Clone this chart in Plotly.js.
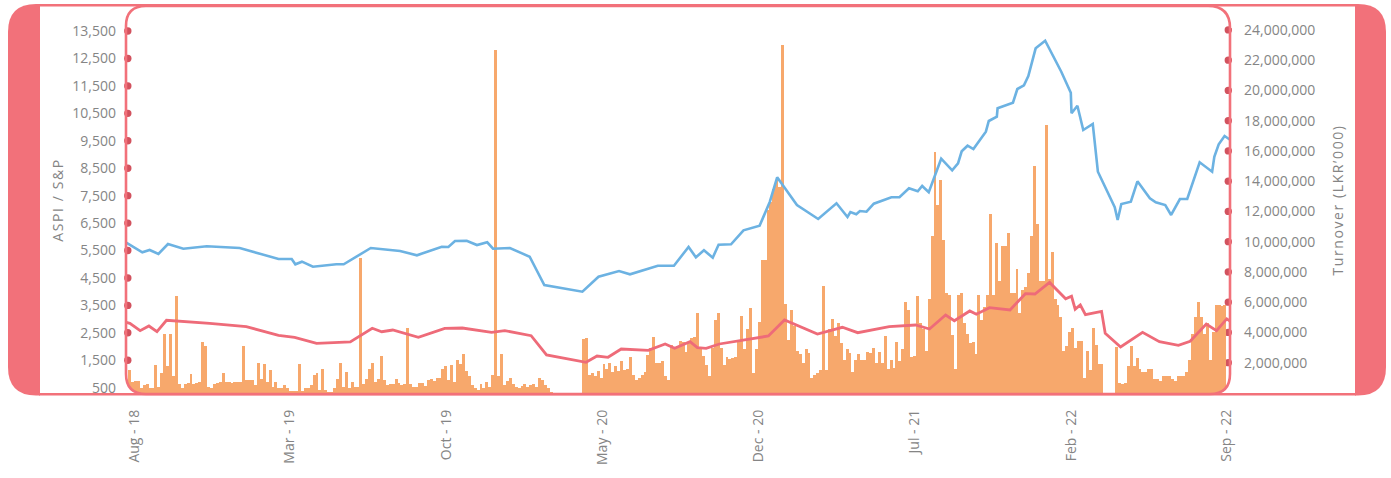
<!DOCTYPE html>
<html>
<head>
<meta charset="utf-8">
<script src="https://cdn.plot.ly/plotly-3.0.1.min.js"></script>
<style>
  html, body { margin: 0; padding: 0; background: #fff; }
  #chart { width: 1391px; height: 478px; }
  .ytitle, .y2title { letter-spacing: 1.6px; }
</style>
</head>
<body>
<div id="chart"></div>
<script>
// --- Data ---
// ASPI index (left axis)
const aspiDates = ['2018-07-21','2018-08-12','2018-08-22','2018-09-03','2018-09-16','2018-10-07','2018-11-08','2018-12-23',
  '2019-02-14','2019-03-04','2019-03-09','2019-03-18','2019-04-02','2019-05-04','2019-05-14','2019-06-20','2019-07-30',
  '2019-08-22','2019-09-25','2019-10-04','2019-10-13','2019-10-29','2019-11-12','2019-11-26','2019-12-04','2019-12-27',
  '2020-01-23','2020-02-12','2020-04-04','2020-04-26','2020-05-24','2020-06-08','2020-07-16','2020-08-07','2020-08-27',
  '2020-09-06','2020-09-17','2020-09-29','2020-10-07','2020-10-24','2020-11-10','2020-12-02','2020-12-16','2020-12-26',
  '2021-01-22','2021-02-20','2021-03-17','2021-04-01','2021-04-05','2021-04-13','2021-04-18','2021-04-27','2021-05-07',
  '2021-05-31','2021-06-11','2021-06-24','2021-07-06','2021-07-12','2021-07-21','2021-08-07','2021-08-22','2021-08-30',
  '2021-09-04','2021-09-12','2021-09-20','2021-10-07','2021-10-11','2021-10-22','2021-10-23','2021-11-13','2021-11-19',
  '2021-11-28','2021-12-04','2021-12-14','2021-12-27','2022-01-18','2022-01-31','2022-02-01','2022-02-09','2022-02-17',
  '2022-03-02','2022-03-09','2022-04-01','2022-04-05','2022-04-10','2022-04-23','2022-05-02','2022-05-19','2022-05-27',
  '2022-06-09','2022-06-17','2022-06-29','2022-07-09','2022-07-26','2022-08-12','2022-08-15','2022-08-21','2022-08-29',
  '2022-09-06'];
const aspiValues = [5785,5435,5519,5373,5738,5567,5654,5592,
  5191,5191,4998,5093,4910,4998,4998,5592,5483,
  5326,5639,5628,5847,5858,5701,5800,5567,5592,
  5275,4243,3999,4546,4754,4633,4947,4947,5629,
  5253,5508,5239,5712,5727,6237,6405,7280,8169,
  7159,6649,7221,6722,6904,6820,6941,6915,7207,
  7440,7440,7768,7659,7852,7622,8847,8424,8679,
  9117,9321,9200,9831,10221,10378,10684,10888,11388,
  11522,11862,12871,13148,12018,11253,10502,10779,9893,
  10112,8373,7076,6613,7196,7280,8023,7404,7258,
  7159,6795,7378,7378,8716,8373,8920,9372,9674,
  9529];

// S&P SL20 index (left axis)
const spDates = ['2018-07-21','2018-07-26','2018-08-09','2018-08-21','2018-09-01','2018-09-14','2018-11-12','2019-01-01',
  '2019-02-14','2019-03-08','2019-04-07','2019-05-23','2019-06-22','2019-07-05','2019-07-20','2019-08-24','2019-09-29',
  '2019-10-23','2019-12-02','2019-12-20','2020-01-25','2020-02-15','2020-04-09','2020-04-24','2020-05-09','2020-05-27',
  '2020-07-03','2020-07-26','2020-08-08','2020-08-29','2020-09-08','2020-09-20','2020-10-08','2020-11-08','2020-12-14',
  '2021-01-05','2021-02-19','2021-03-25','2021-04-15','2021-05-28','2021-07-03','2021-07-22','2021-08-13','2021-08-25',
  '2021-09-15','2021-09-24','2021-10-12','2021-11-09','2021-11-30','2021-12-13','2022-01-02','2022-01-24','2022-02-01',
  '2022-02-06','2022-02-13','2022-02-20','2022-03-14','2022-03-19','2022-04-09','2022-05-09','2022-06-01','2022-06-27',
  '2022-07-13','2022-08-04','2022-08-18','2022-09-01','2022-09-06'];
const spValues = [2884,2847,2578,2749,2541,2957,2847,2723,
  2410,2337,2118,2166,2665,2541,2603,2337,2665,
  2676,2519,2578,2395,1692,1426,1655,1608,1911,
  1863,2093,1936,2177,1958,1936,2093,2239,2384,
  2968,2457,2702,2505,2723,2785,2640,3150,2939,
  3296,3175,3416,3332,3926,3915,4335,3740,3832,
  3361,3514,3164,3285,2483,1984,2519,2177,2045,
  2191,2822,2578,3011,2913];

// Turnover, LKR'000 in millions, one bar every 4 days from 25 Jul 2018 (null = market closed)
const turnoverJul18 = [1.5,0.75,0.8,0.8,0.3,0.55,0.6,0.3,0.35,1.85,0.4,1.3,3.9,1.8,3.9,1.1,6.4,0.6,0.3,0.6,
  0.65,1.25,0.6,0.65,0.75,3.35,3.1,0.4,0.3,0.6,0.65,0.75,1.3,0.75,0.7,0.65,0.75,0.75,0.75,3.1,
  0.85,0.85,0.85,0.55,2.0,0.95,1.9,0.75,1.5,0.4,0.7,0.3,0.35,0.55,0.3,0.15,0.1,0.15,1.9,0.1,0.35,0.35];
const turnoverMar19 = [0.5,1.2,1.3,0.2,1.6,0.2,0.05,0.05,0.3,0.95,2.0,0.4,1.4,0.3,0.7,0.4,0.4,8.95,0.6,0.95,
  1.6,2.0,0.7,0.95,2.45,0.85,0.55,0.6,0.6,0.95,0.65,0.55,0.6,4.3,0.6,0.4,0.4,0.65,0.65,0.45,
  0.85,0.95,0.8,1.0,1.0,1.6,1.8,0.85,1.85,0.75,2.2,1.9,2.55,1.45,1.1,0.5,0.35,0.2,0.6,0.35,0.75,0.4,1.2];
const turnoverNov19 = [22.7,1.1,2.6,0.5,0.8,0.97,0.6,0.4,0.35,0.45,0.6,0.4,0.5,0.6,0.4,1.0,0.86,0.5,0.35,0.05,
  null,null,null,null,null,null,null,null,null,null,
  3.55,3.6,1.2,1.3,1.1,1.45,0.97,1.9,1.6,1.95,1.4,1.75,1.45,2.1,1.5,1.6,2.4,1.2,0.86,0.97,
  1.2,1.35,2.5,3.0,3.7,2.0,2.0,2.1,1.15,0.86,3.2,3.0,3.1];
const turnoverAug20 = [3.4,3.35,2.7,3.35,3.6,3.7,5.3,2.9,2.46,1.85,1.1,3.0,4.8,5.3,2.95,1.85,2.35,2.25,2.3,2.4,
  3.5,5.1,2.9,4.2,5.6,1.3,2.9,4.7,8.8,8.8,12.1,12.6,13.5,14.06,13.6,23.0,5.9,3.5,5.5,4.4,
  2.8,2.6,2.0,2.9,2.65,1.0,1.2,1.3,1.5,7.1,1.5,4.2,4.9,3.75,4.6,3.3,2.2,2.9,2.65,1.4,2.2,2.6,2.2];
const turnoverApr21 = [2.2,2.7,2.65,3.0,2.0,2.7,2.0,3.75,1.55,2.2,1.65,3.35,2.1,2.9,6.0,5.5,2.4,2.45,6.4,4.6,
  4.2,2.8,6.2,10.4,15.9,12.4,14.06,10.1,6.6,6.5,3.8,1.6,6.5,6.6,4.6,3.9,3.3,3.35,2.6,6.5,
  4.8,5.7,6.5,11.8,6.5,9.9,7.4,9.7,9.7,10.6,6.6,6.6,8.2,5.3,6.8,7.0,7.9,10.4,15.0,11.2,7.4,7.4,17.7];
const turnoverDec21 = [7.5,9.3,6.2,5.8,5.0,2.8,3.1,4.0,4.3,3.0,3.4,3.4,1.0,2.8,1.5,4.3,3.2,1.9,1.9,null,
  null,null,null,3.05,0.65,0.6,0.65,1.8,3.1,1.75,2.3,1.6,1.35,1.35,1.6,1.6,0.9,0.9,0.8,1.1,
  1.1,1.1,0.9,0.8,1.1,1.1,1.1,1.4,2.2,3.9,5.0,6.0,5.0,3.9,4.6,2.2,4.0,5.8,5.8,5.75,5.8];

// Axis ticks
const indexTicks = [500,1500,2500,3500,4500,5500,6500,7500,8500,9500,10500,11500,12500,13500];
const turnoverTicks = [2e6,4e6,6e6,8e6,10e6,12e6,14e6,16e6,18e6,20e6,22e6,24e6];

// --- Colours ---
const PINK = '#F2717A';
const DOT = '#D2525E';
const ORANGE = '#F7A86C';
const BLUE = '#6CB2E2';
const RED = '#EE6B79';
const GREY = '#858585';
const FONT = 'Open Sans, sans-serif';

// --- Frame geometry (px -> paper) ---
const W = 1391, H = 478;
const M = { l: 126, r: 161, t: 6, b: 84 };
const plotW = W - M.l - M.r;
const plotH = H - M.t - M.b;
const px = x => (x - M.l) / plotW;
const py = y => (H - M.b - y) / plotH;
const P = (x, y) => `${px(x)},${py(y)}`;

function pathShape(d, opts) {
    return Object.assign({ type: 'path', xref: 'paper', yref: 'paper', path: d, layer: 'above',
        line: { width: 0 }, fillcolor: 'rgba(0,0,0,0)' }, opts);
}

const shapes = [];

// dots on the two axes (under the bars)
indexTicks.forEach(v => shapes.push({
    type: 'circle', xref: 'paper', yref: 'y2', xsizemode: 'pixel', ysizemode: 'pixel',
    xanchor: px(127.8), yanchor: v, x0: -3.7, x1: 3.7, y0: -3.7, y1: 3.7,
    fillcolor: DOT, line: { width: 0 }, layer: 'below'
}));
turnoverTicks.forEach(v => shapes.push({
    type: 'circle', xref: 'paper', yref: 'y', xsizemode: 'pixel', ysizemode: 'pixel',
    xanchor: px(1228.3), yanchor: v, x0: -3.7, x1: 3.7, y0: -3.7, y1: 3.7,
    fillcolor: DOT, line: { width: 0 }, layer: 'below'
}));

// white masks for the rounded plot corners
shapes.push(pathShape(`M ${P(122,2)} L ${P(122,26)} L ${P(126,26)} Q ${P(126,6)} ${P(146,6)} L ${P(146,2)} Z`, { fillcolor: '#fff' }));
shapes.push(pathShape(`M ${P(1234,2)} L ${P(1208,2)} L ${P(1208,6)} Q ${P(1230,6)} ${P(1230,28)} L ${P(1234,28)} Z`, { fillcolor: '#fff' }));
shapes.push(pathShape(`M ${P(122,398)} L ${P(122,374)} L ${P(126,374)} Q ${P(126,394)} ${P(146,394)} L ${P(146,398)} Z`, { fillcolor: '#fff' }));
shapes.push(pathShape(`M ${P(1234,398)} L ${P(1210,398)} L ${P(1210,394)} Q ${P(1230,394)} ${P(1230,374)} L ${P(1234,374)} Z`, { fillcolor: '#fff' }));

// rounded plot border
shapes.push(pathShape(
    `M ${P(146,6)} L ${P(1208,6)} Q ${P(1230,6)} ${P(1230,28)} L ${P(1230,374)} Q ${P(1230,394)} ${P(1210,394)} ` +
    `L ${P(146,394)} Q ${P(126,394)} ${P(126,374)} L ${P(126,26)} Q ${P(126,6)} ${P(146,6)} Z`,
    { line: { color: PINK, width: 2.6 } }));

// outer frame: side bands + top / bottom rules
shapes.push(pathShape(`M ${P(40,4)} L ${P(36,4)} Q ${P(8,4)} ${P(8,32)} L ${P(8,367)} Q ${P(8,395.5)} ${P(36,395.5)} L ${P(40,395.5)} Z`, { fillcolor: PINK }));
shapes.push(pathShape(`M ${P(1355,4)} L ${P(1358,4)} Q ${P(1386,4)} ${P(1386,32)} L ${P(1386,367)} Q ${P(1386,395.5)} ${P(1358,395.5)} L ${P(1355,395.5)} Z`, { fillcolor: PINK }));
shapes.push(pathShape(`M ${P(39,5.3)} L ${P(1356,5.3)}`, { line: { color: PINK, width: 2.6 } }));
shapes.push(pathShape(`M ${P(39,394.2)} L ${P(1356,394.2)}`, { line: { color: PINK, width: 2.6 } }));

// --- Traces ---
const DAY = 864e5;
const barStart = Date.UTC(2018, 6, 25, 12);
const turnoverM = [].concat(turnoverJul18, turnoverMar19, turnoverNov19, turnoverAug20, turnoverApr21, turnoverDec21);
const barDates = turnoverM.map((_, i) => new Date(barStart + i * 4 * DAY).toISOString().slice(0, 16).replace('T', ' '));

const traces = [
    { type: 'bar', x: barDates, y: turnoverM.map(v => v === null ? null : v * 1e6), yaxis: 'y',
      marker: { color: ORANGE, line: { width: 0 } }, hoverinfo: 'skip' },
    { type: 'scatter', mode: 'lines', x: spDates, y: spValues, yaxis: 'y2',
      line: { color: RED, width: 2.8 }, hoverinfo: 'skip' },
    { type: 'scatter', mode: 'lines', x: aspiDates, y: aspiValues, yaxis: 'y2',
      line: { color: BLUE, width: 2.6 }, hoverinfo: 'skip' }
];

const tickFont = { family: FONT, size: 14, color: GREY };

const layout = {
    width: W, height: H, autosize: false,
    margin: { l: M.l, r: M.r, t: M.t, b: M.b, pad: 0 },
    paper_bgcolor: '#fff', plot_bgcolor: 'rgba(0,0,0,0)',
    showlegend: false, bargap: 0,
    xaxis: {
        type: 'date', range: ['2018-07-20 17:00', '2022-09-05 10:00'],
        tick0: '2018-08-01', dtick: 'M7', tickformat: '%b - %y', tickangle: -90,
        showgrid: false, zeroline: false, showline: false, ticks: '',
        ticklabelstandoff: 12, tickfont: tickFont
    },
    yaxis: {
        side: 'right', range: [-73000, 25580000],
        tickmode: 'array', tickvals: turnoverTicks, tickformat: ',',
        showgrid: false, zeroline: false, showline: false, ticks: '',
        ticklabelstandoff: 13, tickfont: tickFont,
        title: { text: 'Turnover (LKR’000)', standoff: 18, font: { family: FONT, size: 14, color: GREY } }
    },
    yaxis2: {
        overlaying: 'y', side: 'left', range: [270, 14413],
        tickmode: 'array', tickvals: indexTicks, tickformat: ',',
        showgrid: false, zeroline: false, showline: false, ticks: '',
        ticklabelstandoff: 9, tickfont: tickFont,
        title: { text: 'ASPI / S&P', standoff: 5, font: { family: FONT, size: 14, color: GREY } }
    },
    shapes: shapes
};

Plotly.newPlot('chart', traces, layout, { displayModeBar: false, staticPlot: true });
</script>
</body>
</html>
